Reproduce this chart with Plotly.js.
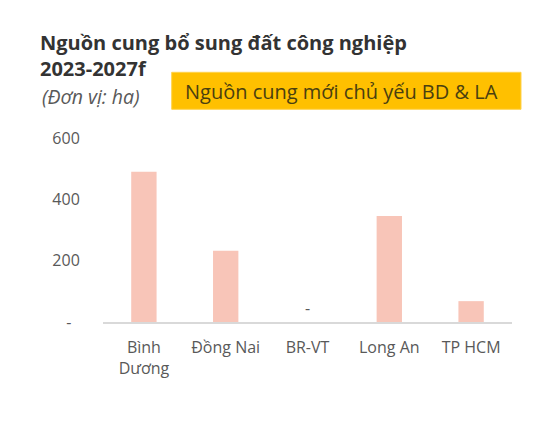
<!DOCTYPE html>
<html>
<head>
<meta charset="utf-8">
<script src="https://cdn.plot.ly/plotly-3.0.1.min.js"></script>
<style>html,body{margin:0;padding:0;background:#fff;}#chart{width:557px;height:428px;}</style>
</head>
<body>
<div id="chart"></div>
<script>
// Data
const categories = ["Bình<br>Dương", "Đồng Nai", "BR-VT", "Long An", "TP HCM"];
const supplyHa = [490, 232, 0, 346, 68];
const yTickVals = [0, 200, 400, 600];
const yTickText = ["-\u00a0\u00a0", "200", "400", "600"];
const titleText = "Nguồn cung bổ sung đất công nghiệp<br>2023-2027f";
const unitText = "(Đơn vị: ha)";
const calloutText = "Nguồn cung mới chủ yếu BD & LA";

const dataLabels = supplyHa.map(v => v === 0 ? "-" : "");

const FONT = "Open Sans, Noto Sans, sans-serif";

const trace = {
  type: "bar",
  x: categories,
  y: supplyHa,
  marker: {color: "#F8C5B8"},
  text: dataLabels,
  textposition: "outside",
  textfont: {family: FONT, size: 16, color: "#595959"},
  cliponaxis: false,
  hoverinfo: "x+y"
};

const layout = {
  width: 557,
  height: 428,
  paper_bgcolor: "#ffffff",
  plot_bgcolor: "#ffffff",
  margin: {l: 103, r: 45, t: 138, b: 106, pad: 0},
  bargap: 0.69,
  showlegend: false,
  font: {family: FONT, size: 16, color: "#595959"},
  title: {
    text: titleText,
    font: {family: FONT, size: 20, color: "#333333", weight: "bold"},
    xref: "container", yref: "container",
    x: 40/557, xanchor: "left",
    y: 1 - 50/428, yanchor: "middle"
  },
  xaxis: {
    type: "category",
    showline: true,
    linecolor: "#D9D9D9",
    linewidth: 1.5,
    ticks: "outside",
    ticklen: 10,
    tickcolor: "rgba(0,0,0,0)",
    tickfont: {family: FONT, size: 16, color: "#595959"},
    showgrid: false,
    zeroline: false,
    fixedrange: true
  },
  yaxis: {
    range: [0, 600],
    tickvals: yTickVals,
    ticktext: yTickText,
    showline: false,
    showgrid: false,
    zeroline: false,
    ticks: "outside",
    ticklen: 19,
    tickcolor: "rgba(0,0,0,0)",
    tickfont: {family: FONT, size: 16, color: "#595959"},
    fixedrange: true
  },
  shapes: [{
    type: "rect",
    xref: "paper", yref: "paper",
    x0: (171.7 - 103) / 409, x1: (521 - 103) / 409,
    y0: (322 - 109.3) / 184, y1: (322 - 72.3) / 184,
    fillcolor: "#FFC000",
    line: {color: "#FFD24D", width: 1}
  }],
  annotations: [
    {
      text: unitText,
      xref: "paper", yref: "paper",
      x: (40 - 103) / 409, xanchor: "left",
      y: (322 - 96) / 184, yanchor: "middle",
      showarrow: false,
      font: {family: FONT, size: 19.5, color: "#595959", style: "italic"}
    },
    {
      text: calloutText,
      xref: "paper", yref: "paper",
      x: (183 - 103) / 409, xanchor: "left",
      y: (322 - 91.5) / 184, yanchor: "middle",
      showarrow: false,
      font: {family: FONT, size: 20, color: "#4A3F10"}
    }
  ]
};

Plotly.newPlot("chart", [trace], layout, {displayModeBar: false, staticPlot: true});
</script>
</body>
</html>
